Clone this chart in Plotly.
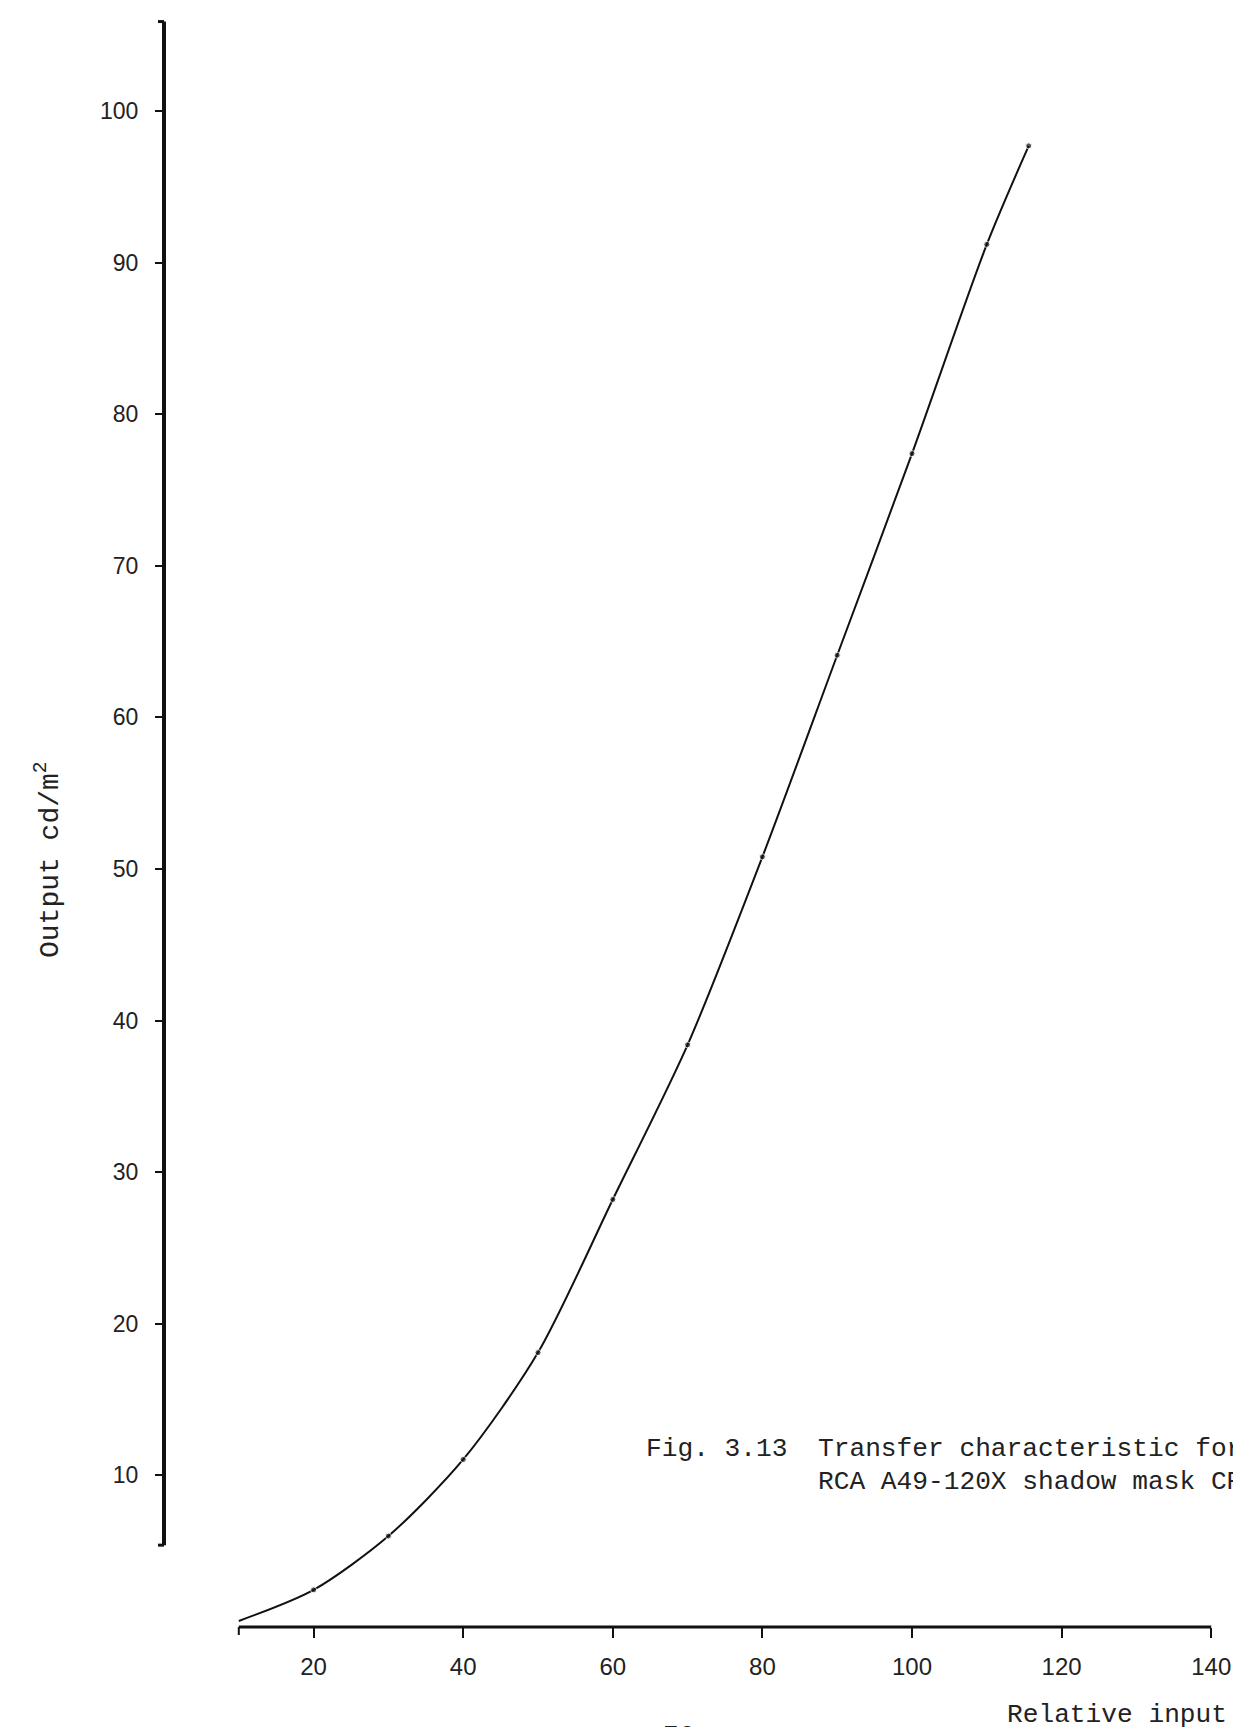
import plotly.graph_objects as go

# ---- data ----
relative_input = [10, 20, 30, 40, 50, 60, 70, 80, 90, 100, 110, 115.6]
output_cdm2 = [0.4, 2.45, 6.0, 11.05, 18.1, 28.2, 38.4, 50.8, 64.1, 77.4, 91.2, 97.7]
marker_sizes = [0, 6, 6, 6, 6, 6, 6, 6, 6, 6, 6, 6]

x_tickvals = [20, 40, 60, 80, 100, 120, 140]
x_ticktext = ["20", "40", "60", "80", "100", "120", "140"]
y_tickvals = [10, 20, 30, 40, 50, 60, 70, 80, 90, 100]
y_ticktext = ["10", "20", "30", "40", "50", "60", "70", "80", "90", "100"]

x_axis_span = [10, 140]
y_axis_span = [5.4, 105.9]

caption_fig = "Fig. 3.13"
caption_line1 = "Transfer characteristic for"
caption_line2 = "RCA A49-120X shadow mask CRT"
x_title = "Relative input"
y_title = "Output cd/m<sup>2</sup>"
page_number = "76"

# ---- layout geometry ----
W, H = 1241, 1727
L, R, T, B = 156, 8, 4, 108
PW, PH = W - L - R, H - T - B
X_SCALE, Y_SCALE = 7.48, 15.16
MONO = "Liberation Mono"
SANS = "Liberation Sans"
INK = "#111111"
TXT = "#222222"


def px_x(px):
    return (px - L) / PW


def px_y(py):
    return (H - B - py) / PH


fig = go.Figure()
fig.add_trace(go.Scatter(
    x=relative_input, y=output_cdm2,
    mode="lines+markers",
    line=dict(color=INK, width=2, shape="spline", smoothing=0.8),
    marker=dict(color=INK, size=marker_sizes),
    hoverinfo="skip", showlegend=False,
))

fig.update_layout(
    width=W, height=H,
    margin=dict(l=L, r=R, t=T, b=B, autoexpand=False),
    paper_bgcolor="white", plot_bgcolor="white",
    xaxis=dict(
        range=[0, PW / X_SCALE], showgrid=False, zeroline=False, showline=False,
        tickmode="array", tickvals=x_tickvals, ticktext=x_ticktext,
        ticks="outside", ticklen=10, tickwidth=2, tickcolor=INK,
        ticklabelstandoff=8,
        tickfont=dict(family=SANS, size=24, color=TXT),
    ),
    yaxis=dict(
        range=[0, PH / Y_SCALE], showgrid=False, zeroline=False, showline=False,
        tickmode="array", tickvals=y_tickvals, ticktext=y_ticktext,
        ticks="outside", ticklen=8, tickwidth=2, tickcolor=INK,
        ticklabelstandoff=12,
        tickfont=dict(family=SANS, size=23, color=TXT),
    ),
)

# axis lines (drawn as shapes so they span only the drawn part of the original)
hook = 6 / PW
fig.add_shape(type="line", xref="paper", yref="y", x0=0, x1=0,
              y0=y_axis_span[0], y1=y_axis_span[1],
              line=dict(color=INK, width=4))
fig.add_shape(type="line", xref="paper", yref="y", x0=-hook, x1=0,
              y0=y_axis_span[1], y1=y_axis_span[1], line=dict(color=INK, width=3))
fig.add_shape(type="line", xref="paper", yref="y", x0=-hook, x1=0,
              y0=y_axis_span[0], y1=y_axis_span[0], line=dict(color=INK, width=3))
fig.add_shape(type="line", xref="x", yref="paper", x0=x_axis_span[0], x1=x_axis_span[1],
              y0=0, y1=0, line=dict(color=INK, width=3))
fig.add_shape(type="line", xref="x", yref="paper", x0=x_axis_span[0], x1=x_axis_span[0],
              y0=0, y1=-8 / PH, line=dict(color=INK, width=2))

ann_font = dict(family=MONO, size=26.2, color=TXT)
fig.add_annotation(text=caption_fig, xref="paper", yref="paper",
                   x=px_x(636), y=px_y(1441), xanchor="left", yanchor="middle",
                   showarrow=False, font=ann_font)
fig.add_annotation(text=caption_line1, xref="paper", yref="paper",
                   x=px_x(808), y=px_y(1441), xanchor="left", yanchor="middle",
                   showarrow=False, font=ann_font)
fig.add_annotation(text=caption_line2, xref="paper", yref="paper",
                   x=px_x(808), y=px_y(1474), xanchor="left", yanchor="middle",
                   showarrow=False, font=ann_font)
fig.add_annotation(text=x_title, xref="paper", yref="paper",
                   x=px_x(997), y=px_y(1707), xanchor="left", yanchor="middle",
                   showarrow=False, font=ann_font)
fig.add_annotation(text=page_number, xref="paper", yref="paper",
                   x=px_x(670), y=px_y(1711), xanchor="center", yanchor="top",
                   showarrow=False, font=ann_font)
fig.add_annotation(text=y_title, xref="paper", yref="paper",
                   x=px_x(40), y=px_y(852), xanchor="center", yanchor="middle",
                   textangle=-90, showarrow=False,
                   font=dict(family=MONO, size=28, color=TXT))

fig.write_html("out.html")
